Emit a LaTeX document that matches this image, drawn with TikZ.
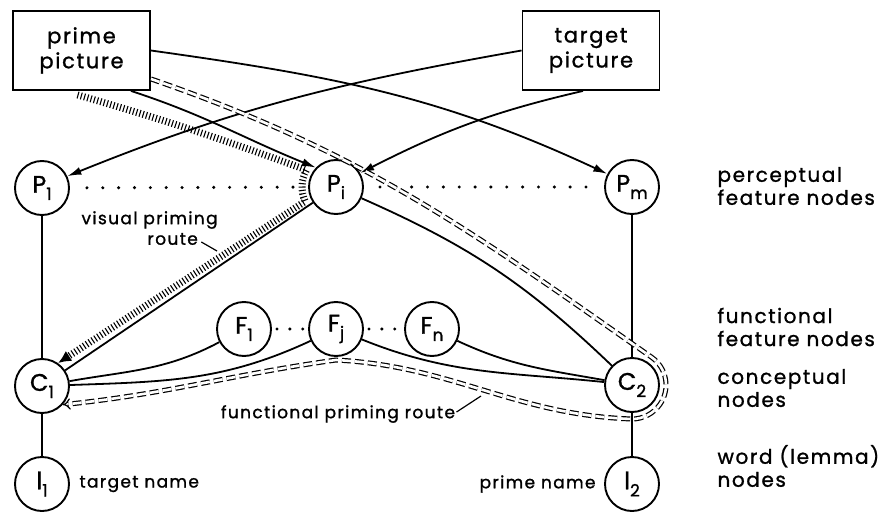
\documentclass[tikz,border=0pt]{standalone}
\usepackage{fontspec}
\setmainfont{Poppins}[LetterSpace=8, FakeBold=1.2]
\usetikzlibrary{arrows.meta,calc,positioning}
\tikzset{
    unit node/.style = {
        circle,
        draw,
        line width=1.9pt,
        minimum size=54pt,
        inner sep=0pt,
        font=\fontsize{24}{24}\selectfont,
        },
    picture box/.style = {
        draw,
        line width=1.9pt,
        minimum width=137pt,
        minimum height=79pt,
        align=center,
        font=\fontsize{21}{25}\selectfont,
        },
    layer label/.style = {
        anchor=west,
        align=left,
        font=\fontsize{20}{23}\selectfont,
        },
    route label/.style = {
        font=\fontsize{17}{19}\selectfont,
        },
}
\newcommand{\unitname}[2]{#1\raisebox{-0.55ex}{\fontsize{17}{17}\selectfont #2}}

\begin{document}
\begin{tikzpicture}[
            x=1pt, y=1pt,
            link/.style={line width=1.8pt},
            feed/.style={line width=1.8pt, -{Latex[length=14pt, width=8pt]}},
            dotrow/.style={line width=3.4pt, line cap=round, dash pattern=on 0pt off #1},
            visual route/.style={line width=7pt, dash pattern=on 1.1pt off 2.3pt},
            functional route/.style={line width=1.2pt, double, double distance=2.6pt, dash pattern=on 9pt off 4pt},
            leader/.style={line width=1.2pt}
            ]
            \useasboundingbox (0,0) rectangle (890,512);

            \node [picture box] (prime) at (81.5,461.5) {prime\\picture};
            \node [picture box] (target) at (591,461.5) {target\\picture};

            \node [unit node] (P1) at (42,324) {\unitname{P}{1}};
            \node [unit node] (Pi) at (336,325) {\unitname{P}{i}};
            \node [unit node] (Pm) at (632,325) {\unitname{P}{m}};

            \node [unit node] (F1) at (244,183) {\unitname{F}{1}};
            \node [unit node] (Fj) at (336,183) {\unitname{F}{j}};
            \node [unit node] (Fn) at (432,183) {\unitname{F}{n}};

            \node [unit node] (C1) at (42,126) {\unitname{C}{1}};
            \node [unit node] (C2) at (632,127) {\unitname{C}{2}};

            \node [unit node] (l1) at (42,28) {\unitname{l}{1}};
            \node [unit node] (l2) at (632,28) {\unitname{l}{2}};

            \node [route label, right=6pt of l1] (tname) {target name};
            \node [route label, left=5pt of l2] (pname) {prime name};

            \node [layer label] (perclab) at (714,326) {perceptual\\feature nodes};
            \node [layer label] (funclab) at (714,185) {functional\\feature nodes};
            \node [layer label] (conclab) at (714,124) {conceptual\\nodes};
            \node [layer label] (wordlab) at (714,46) {word (lemma)\\nodes};

            \node [route label, anchor=west] (vislabel) at (78,292) {visual priming};
            \node [route label, anchor=west] (visroute) at (144,273) {route};
            \node [route label] (funclabel) at (338,98) {functional priming route};
            \coordinate (vistick) at (217,261);
            \coordinate (functick) at (481,116);

            % connections
            \draw [link] (P1) -- (C1);
            \draw [link] (Pm) -- (C2);
            \draw [link] (C1) -- (l1);
            \draw [link] (C2) -- (l2);
            \draw [link] (Pi) -- (C1);
            \draw [link] (Pi) to[bend left=10] (C2);
            \draw [link] (F1) to[out=208,in=10] (C1);
            \draw [link] (Fj) to[out=205,in=2] (C1);
            \draw [link] (Fj) to[out=-22,in=174] (C2);
            \draw [link] (Fn) to[out=-25,in=170] (C2);

            \draw [dotrow=15.85pt, shorten <=17pt, shorten >=15pt] (P1) -- (Pi);
            \draw [dotrow=15.85pt, shorten <=16pt, shorten >=14pt] (Pi) -- (Pm);
            \draw [dotrow=12.9pt, shorten <=5pt, shorten >=5pt] (F1) -- (Fj);
            \draw [dotrow=12.9pt, shorten <=5pt, shorten >=5pt] (Fj) -- (Fn);

            \draw [feed] (prime.east) to[out=-8,in=155] (Pm.152);
            \draw [feed] ([xshift=-20pt]prime.south east) to[out=-18,in=158] (Pi.136);
            \draw [feed] (target.west) to[out=190,in=22] (P1.25);
            \draw [feed] ([xshift=-8pt]target.south) to[out=193,in=27] (Pi.30);

            \draw [visual route, -{Latex[length=13pt, width=12pt]}] ([shift={(-4pt,-4pt)}]prime.south)
                to[out=-16,in=160] ([shift={(150:34pt)}]Pi.center)
                arc[start angle=150, end angle=205, radius=34pt] -- (C1.55);

            \draw [functional route, -{Implies}] ([yshift=12pt]prime.south east)
                to[out=-19,in=145] ([shift={(55:34pt)}]C2.center)
                arc[start angle=55, end angle=-90, radius=34pt]
                to[out=178,in=-3] ([yshift=-31pt]Fj.center)
                to[out=188,in=6] (C1.-42);

            \draw [leader] ([yshift=-3pt]visroute.east) -- (vistick);
            \draw [leader] ([shift={(-2pt,2pt)}]funclabel.east) -- (functick);
\end{tikzpicture}
\end{document}
